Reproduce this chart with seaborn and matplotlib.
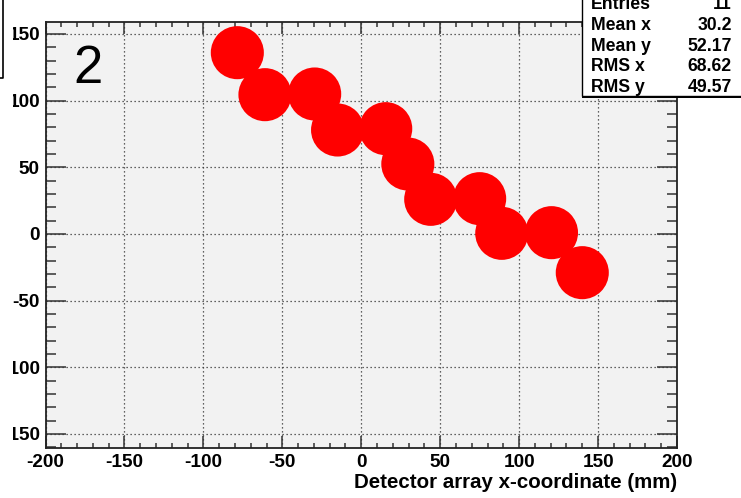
import matplotlib
matplotlib.use('Agg')
import matplotlib.pyplot as plt
import seaborn as sns
import pandas as pd
from matplotlib.ticker import MultipleLocator
from matplotlib.transforms import Bbox, TransformedBbox
from matplotlib.patches import Rectangle

x_mm = [-78.5, -61, -29.5, -15, 15.5, 29.5, 44, 75, 89, 120.5, 140]
y_mm = [136, 104.5, 105, 78, 79, 52.5, 26, 26.5, 0.5, 1, -29]
x_ticks = [-200, -150, -100, -50, 0, 50, 100, 150, 200]
y_ticks = [-150, -100, -50, 0, 50, 100, 150]
stat_names = ['Entries', 'Mean x', 'Mean y', 'RMS x', 'RMS y']
stat_values = ['11', '30.2', '52.17', '68.62', '49.57']

df = pd.DataFrame({'x': x_mm, 'y': y_mm})

plt.rcParams['font.family'] = ['Liberation Sans', 'DejaVu Sans']

W, H = 741, 498
fig = plt.figure(figsize=(W / 100, H / 100), dpi=100)
ax = fig.add_axes([45.5 / W, 1 - 448 / H, (677 - 45.5) / W, (448 - 22) / H])
ax.set_facecolor('#f2f2f2')

sns.scatterplot(data=df, x='x', y='y', s=1460, color='red', edgecolor='none',
                alpha=1, ax=ax, zorder=3, legend=False)

ax.set_xlim(-200, 200)
ax.set_ylim(-160.5, 159)
ax.set_xticks(x_ticks)
ax.set_yticks(y_ticks)
ax.set_xticklabels([str(v) for v in x_ticks], fontweight='bold', fontsize=13.7)
ax.set_yticklabels([str(v) for v in y_ticks], fontweight='bold', fontsize=13.7)
ax.xaxis.set_minor_locator(MultipleLocator(10))
ax.yaxis.set_minor_locator(MultipleLocator(10))
ax.set_xlabel('')
ax.set_ylabel('')

ax.tick_params(axis='both', which='both', direction='in', top=True, right=True,
               color='#333333', width=1.1)
ax.tick_params(axis='x', which='major', length=8.6, pad=4)
ax.tick_params(axis='x', which='minor', length=3.6)
ax.tick_params(axis='y', which='major', length=14.4, pad=4)
ax.tick_params(axis='y', which='minor', length=7.2)
for s in ax.spines.values():
    s.set_linewidth(1.3)
    s.set_color('#222222')

ax.grid(True, which='major', color='#333333', linestyle=(0, (1, 2.2)), linewidth=0.9)
ax.set_axisbelow(True)

# y labels are cut off at the pad edge on the left
clip = TransformedBbox(Bbox([[13 / W, 0], [1, 1]]), fig.transFigure)
for lab in ax.get_yticklabels():
    lab.set_clip_box(clip)
    lab.set_clip_on(True)

fig.text(677 / W, 1 - 488 / H, 'Detector array x-coordinate (mm)', ha='right',
         va='baseline', fontsize=14.8, fontweight='bold')

fig.text(88 / W, 1 - 83 / H, '2', ha='center', va='baseline', fontsize=38)

# corner of a neighbouring frame
fig.add_artist(plt.Line2D([3 / W, 3 / W, 0], [1, 1 - 78 / H, 1 - 78 / H],
                          transform=fig.transFigure, color='black', lw=1.2))

# stats box
fig.add_artist(Rectangle((582 / W, 1 - 98 / H), 200 / W, 120 / H,
                         transform=fig.transFigure, facecolor='black',
                         edgecolor='none', zorder=5))
fig.add_artist(Rectangle((582 / W, 1 - 96 / H), 200 / W, 120 / H,
                         transform=fig.transFigure, facecolor='white',
                         edgecolor='black', lw=1.0, zorder=6))
for i, (n, v) in enumerate(zip(stat_names, stat_values)):
    yb = 1 - (9 + i * 20.8) / H
    fig.text(591 / W, yb, n, ha='left', va='baseline', fontsize=12.7,
             fontweight='bold', zorder=7)
    fig.text(732 / W, yb, v, ha='right', va='baseline', fontsize=12.7,
             fontweight='bold', zorder=7)

fig.savefig('out.png', dpi=100)
